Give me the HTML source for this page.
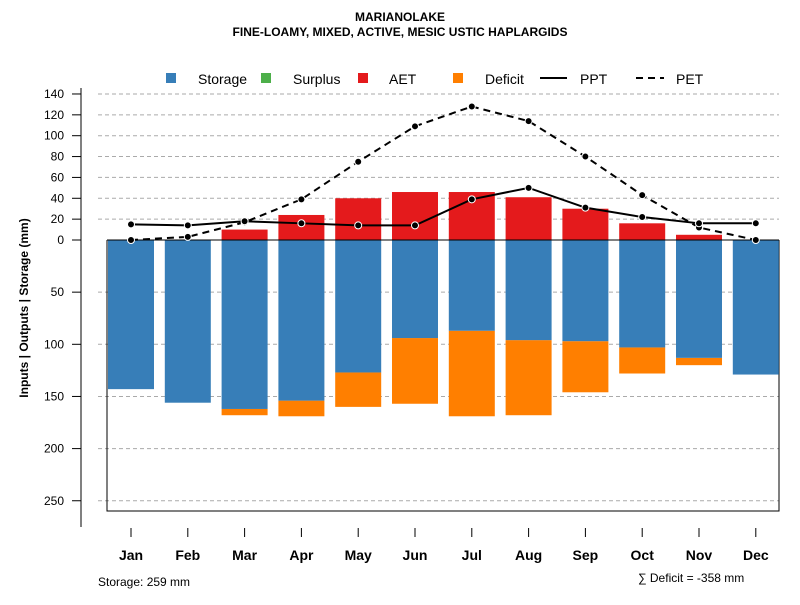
<!DOCTYPE html>
<html><head><meta charset="utf-8"><style>
body{margin:0;background:#fff}
text{font-family:"Liberation Sans",sans-serif}
</style></head><body>
<svg id="c" width="800" height="600" xmlns="http://www.w3.org/2000/svg">
<text x="400" y="21" text-anchor="middle" font-size="12" font-weight="bold">MARIANOLAKE</text>
<text x="400" y="36" text-anchor="middle" font-size="12" font-weight="bold">FINE-LOAMY, MIXED, ACTIVE, MESIC USTIC HAPLARGIDS</text>
<g id="legend">
<rect x="166" y="73" width="10" height="10" fill="#377eb8"/>
<text x="198" y="84" font-size="14">Storage</text>
<rect x="261" y="73" width="10" height="10" fill="#4daf4a"/>
<text x="293" y="84" font-size="14">Surplus</text>
<rect x="358" y="73" width="10" height="10" fill="#e41a1c"/>
<text x="389" y="84" font-size="14">AET</text>
<rect x="453" y="73" width="10" height="10" fill="#ff7f00"/>
<text x="485" y="84" font-size="14">Deficit</text>
<line x1="540" y1="78" x2="567" y2="78" stroke="#000" stroke-width="2"/>
<text x="580" y="84" font-size="14">PPT</text>
<line x1="636" y1="78" x2="664" y2="78" stroke="#000" stroke-width="2" stroke-dasharray="7,5"/>
<text x="676" y="84" font-size="14">PET</text>
</g>
<text transform="translate(28,308) rotate(-90)" text-anchor="middle" font-size="12" font-weight="bold">Inputs | Outputs | Storage    (mm)</text>
<text x="98" y="586" font-size="12">Storage: 259 mm</text>
<text x="638" y="582" font-size="12">∑ Deficit = -358 mm</text>
</svg>
<script>
const months=["Jan","Feb","Mar","Apr","May","Jun","Jul","Aug","Sep","Oct","Nov","Dec"];
const storage=[143,156,162,154,127,94,87,96,97,103,113,129];
const deficit=[0,0,6,15,33,63,82,72,49,25,7,0];
const aet=[0,0,10,24,40,46,46,41,30,16,5,0];
const ppt=[15,14,18,16,14,14,39,50,31,22,16,16];
const pet=[0,3,17,39,75,109,128,114,80,43,12,0];
const posTicks=[0,20,40,60,80,100,120,140];
const negTicks=[50,100,150,200,250];
const svg=document.getElementById('c');
const NS='http://www.w3.org/2000/svg';
function y(v){return 240-v*1.043;}
function x(i){return 131+i*56.8;}
function mk(t,a,p){const e=document.createElementNS(NS,t);for(const k in a)e.setAttribute(k,a[k]);(p||svg).appendChild(e);return e;}
// grid
posTicks.concat(negTicks.map(v=>-v)).forEach(v=>{
 if(v!==0){const g=mk('line',{x1:98,x2:779,y1:y(v),y2:y(v),stroke:'#aaa','stroke-dasharray':'4,3'});
 
 }
 const tk=mk('line',{x1:72,x2:81,y1:y(v),y2:y(v),stroke:'#000'});
 
 
 const t=mk('text',{x:64,y:y(v)+4,'text-anchor':'end','font-size':12});
 t.textContent=Math.abs(v);
 
 
});
const ax=mk('line',{x1:81,x2:81,y1:88,y2:527,stroke:'#000'});


const box=mk('path',{d:'M107,240 V511 H779 V240',fill:'none',stroke:'#000'});


const w=46;
months.forEach((m,i)=>{
 const cx=x(i);
 if(deficit[i]>0){const r=mk('rect',{x:cx-w/2,y:y(-storage[i]),width:w,height:y(-storage[i]-deficit[i])-y(-storage[i]),fill:'#ff7f00'});
 
 }
 const s=mk('rect',{x:cx-w/2,y:240,width:w,height:y(-storage[i])-240,fill:'#377eb8'});
 
 
 if(aet[i]>0){const a=mk('rect',{x:cx-w/2,y:y(aet[i]),width:w,height:240-y(aet[i]),fill:'#e41a1c'});
 
 }
 const tk=mk('line',{x1:cx,x2:cx,y1:528,y2:537,stroke:'#000'});
 
 
 const t=mk('text',{x:cx,y:560,'text-anchor':'middle','font-size':14,'font-weight':'bold'});
 t.textContent=m;
 
 
});
const zl=mk('line',{x1:107,x2:779,y1:240,y2:240,stroke:'#000'});


function series(arr,name,dash){
 const p=mk('polyline',{points:arr.map((v,i)=>x(i)+','+y(v)).join(' '),fill:'none',stroke:'#000','stroke-width':2,'stroke-dasharray':dash});
 
 
 arr.forEach((v,i)=>{const c=mk('circle',{cx:x(i),cy:y(v),r:3.5,fill:'#000',stroke:'#fff','stroke-width':1});
 
 });
}
series(pet,'pet','7,5');
series(ppt,'ppt','none');
</script>
</body></html>
